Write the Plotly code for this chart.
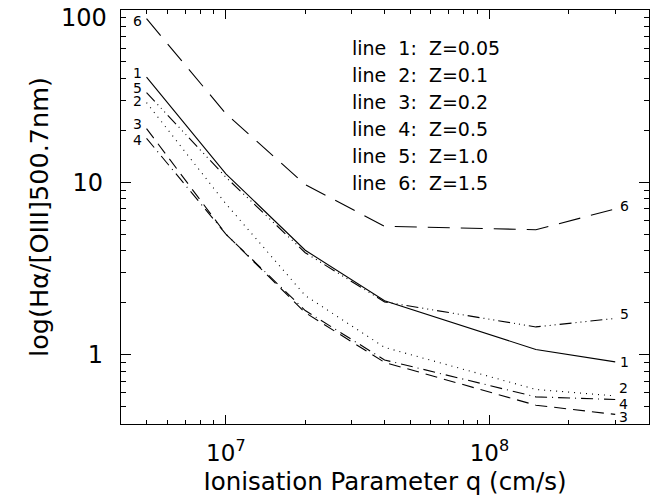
import plotly.graph_objects as go
import numpy as np

# ---- data ----
q = [5e6, 1e7, 2e7, 4e7, 1.5e8, 3e8]
line1 = [40.8, 11.2, 4.03, 2.05, 1.07, 0.906]
line2 = [29.0, 7.5, 2.2, 1.10, 0.627, 0.575]
line3 = [20.5, 5.0, 1.75, 0.90, 0.508, 0.449]
line4 = [18.0, 5.0, 1.80, 0.93, 0.568, 0.548]
line5 = [33.1, 10.7, 3.9, 2.02, 1.446, 1.62]
line6 = [89.0, 25.0, 9.7, 5.55, 5.3, 7.0]
legend_lines = ["line  1:  Z=0.05", "line  2:  Z=0.1", "line  3:  Z=0.2",
                "line  4:  Z=0.5", "line  5:  Z=1.0", "line  6:  Z=1.5"]
y_ticks = [1, 10, 100]
y_ticklabels = ["1", "10", "100"]

series = [
    ("1", line1, "solid", (-9, 4), (9, 0)),
    ("2", line2, "1px,5px", (-9, 2), (8, 8)),
    ("3", line3, "12px,7px", (-9, 5), (8, -3)),
    ("4", line4, "12px,5px,1px,5px", (-9, -2), (8, -4)),
    ("5", line5, "12px,4px,1px,4px,1px,4px,1px,4px", (-9, 5), (9, 4)),
    ("6", line6, "22px,11px", (-9, -2), (9, 3)),
]

FONT = "DejaVu Sans"
W, H = 651, 504
L, R, T, B = 121, 2, 10, 80
pw, ph = W - L - R, H - T - B

fig = go.Figure()
ann = []
for name, ys, dash, ls, rs in series:
    fig.add_trace(go.Scatter(x=q, y=ys, mode="lines",
                             line=dict(color="black", width=1.1, dash=dash),
                             showlegend=False))
    ann.append(dict(x=np.log10(q[0]), y=np.log10(ys[0]), xref="x", yref="y",
                    text=name, showarrow=False, xshift=ls[0], yshift=ls[1],
                    font=dict(size=14, family=FONT, color="black")))
    ann.append(dict(x=np.log10(q[-1]), y=np.log10(ys[-1]), xref="x", yref="y",
                    text=name, showarrow=False, xshift=rs[0], yshift=rs[1],
                    font=dict(size=14, family=FONT, color="black")))

for i, t in enumerate(legend_lines):
    ypix = 48 + i * 26.9
    ann.append(dict(x=(350 - L) / pw, y=1 - (ypix - T) / ph, xref="paper", yref="paper",
                    text=t.replace(" ", "&nbsp;"), showarrow=False,
                    xanchor="left", yanchor="middle",
                    font=dict(size=19, family=FONT, color="black")))

# top tick label (placed as text so it is not clipped at the range edge)
ann.append(dict(x=0, y=np.log10(y_ticks[-1]), xref="paper", yref="y",
                text=y_ticklabels[-1], showarrow=False, xanchor="right",
                yanchor="middle", xshift=-12, yshift=-8,
                font=dict(size=24, family=FONT, color="black")))

xminor = [v * 10 ** e for e in (6, 7, 8) for v in range(2, 10)]
yminor = [v * 10 ** e for e in (-1, 0, 1) for v in range(2, 10)]

fig.update_layout(
    width=W, height=H, margin=dict(l=L, r=R, t=T, b=B),
    paper_bgcolor="white", plot_bgcolor="white",
    font=dict(family=FONT, color="black"),
    annotations=ann,
    xaxis=dict(type="log", range=[np.log10(4.0e6), np.log10(4.03e8)],
               tickvals=[1e7, 1e8], ticktext=["10<sup>7</sup>", "10<sup>8</sup>"],
               ticks="inside", ticklen=9, tickwidth=1, tickcolor="black",
               showline=True, linecolor="black", linewidth=1.2, mirror="ticks",
               showgrid=False, zeroline=False,
               tickfont=dict(size=23, family=FONT), ticklabelstandoff=8,
               minor=dict(tickvals=xminor, ticks="inside", ticklen=4,
                          tickcolor="black", tickwidth=1, showgrid=False),
               title=dict(text="Ionisation Parameter q (cm/s)",
                          font=dict(size=24.5, family=FONT), standoff=8)),
    yaxis=dict(type="log", range=[np.log10(0.395), 2],
               tickvals=y_ticks[:-1], ticktext=y_ticklabels[:-1],
               ticks="inside", ticklen=10, tickwidth=1, tickcolor="black",
               showline=True, linecolor="black", linewidth=1.2, mirror="ticks",
               showgrid=False, zeroline=False,
               tickfont=dict(size=24, family=FONT), ticklabelstandoff=12,
               minor=dict(tickvals=yminor, ticks="inside", ticklen=5,
                          tickcolor="black", tickwidth=1, showgrid=False),
               title=dict(text="log(Hα/[OIII]500.7nm)",
                          font=dict(size=25.5, family=FONT), standoff=16)),
)

fig.write_html("out.html")
